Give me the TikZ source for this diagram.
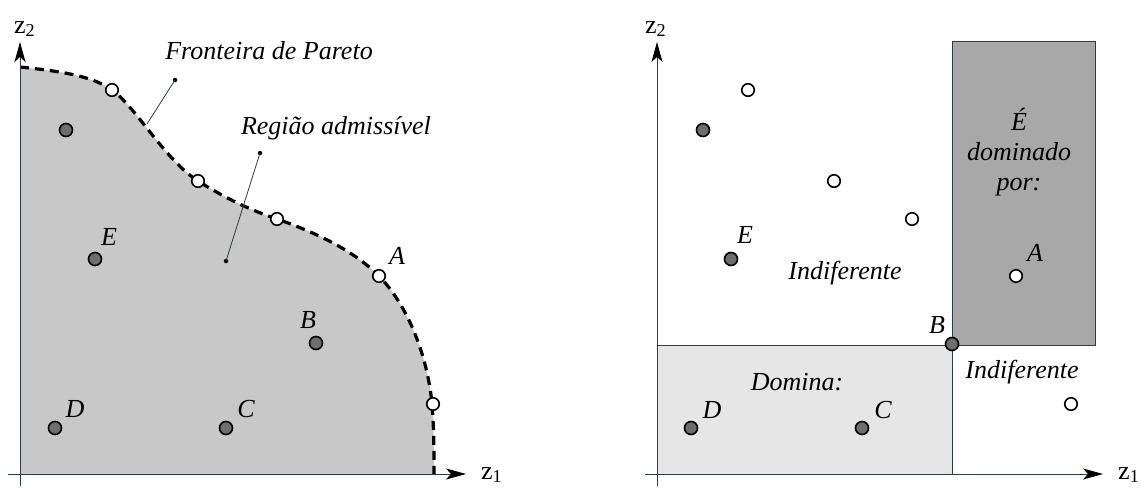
\documentclass[tikz,border=0pt]{standalone}
\usepackage{fontspec}
\setmainfont{Liberation Serif}
\usetikzlibrary{arrows.meta}
\definecolor{axcol}{RGB}{45,60,70}
\definecolor{regfill}{RGB}{200,200,200}
\definecolor{darkfill}{RGB}{168,168,168}
\definecolor{lightfill}{RGB}{230,230,230}
\definecolor{ptgray}{RGB}{110,110,110}
\begin{document}
\begin{tikzpicture}[x=1pt,y=-1pt,
  axis/.style={draw=axcol, line width=0.9pt, -{Stealth[length=20pt,width=11pt,inset=5pt,color=black]}},
  fpt/.style={circle, draw=black, line width=1.6pt, fill=ptgray, minimum size=13pt, inner sep=0pt},
  hpt/.style={circle, draw=black, line width=1.6pt, fill=white, minimum size=12.5pt, inner sep=0pt},
  lbl/.style={font=\fontsize{26}{30}\selectfont\itshape, inner sep=0pt},
  axlbl/.style={font=\fontsize{26}{30}\selectfont, inner sep=0pt},
  leader/.style={draw=axcol, line width=0.8pt},
  ldot/.style={circle, fill=black, minimum size=4.5pt, inner sep=0pt},
  pareto/.style={draw=black, line width=3.2pt, dash pattern=on 9pt off 6pt},
  region/.style={draw=axcol, line width=0.9pt}
]
\useasboundingbox (0,0) rectangle (1141,488);

% ---------- left panel ----------
\fill[regfill] (20,474) -- (20,67)
  .. controls (70,72) and (95,78) .. (112,90)
  .. controls (135,106) and (165,160) .. (198,181)
  .. controls (225,198) and (250,210) .. (277,219)
  .. controls (320,234) and (355,252) .. (379,276)
  .. controls (410,308) and (428,360) .. (432,404)
  .. controls (434,430) and (434,450) .. (434,474) -- cycle;
\draw[pareto] (20,67)
  .. controls (70,72) and (95,78) .. (112,90)
  .. controls (135,106) and (165,160) .. (198,181)
  .. controls (225,198) and (250,210) .. (277,219)
  .. controls (320,234) and (355,252) .. (379,276)
  .. controls (410,308) and (428,360) .. (432,404)
  .. controls (434,430) and (434,450) .. (434,474);

\coordinate (Lo) at (8,474);
\coordinate (Lx) at (466,474);
\coordinate (Lb) at (20,486);
\coordinate (Ly) at (20,42);
\draw[axis] (Lo) -- (Lx);
\draw[axis] (Lb) -- (Ly);
\node[axlbl, anchor=base west] (Lz2) at (14,33) {z\textsubscript{2}};
\node[axlbl, anchor=base west] (Lz1) at (481,479) {z\textsubscript{1}};

% leaders
\node[ldot] (fdot) at (175,80) {};
\coordinate (fcurve) at (147,124);
\draw[leader] (fdot.center) -- (fcurve);
\node[lbl] (ftxt) at (269,51) {Fronteira de Pareto};
\node[ldot] (rdot) at (260,153) {};
\node[ldot] (rdot2) at (226,261) {};
\draw[leader] (rdot.center) -- (rdot2.center);
\node[lbl] (rtxt) at (336,128) {Região admissível};

% points
\node[hpt] (L1) at (112,90) {};
\node[hpt] (L2) at (198,181) {};
\node[hpt] (L3) at (277,219) {};
\node[hpt] (LA) at (379,276) {};
\node[hpt] (L5) at (433,404) {};
\node[fpt] (L6) at (66,130) {};
\node[fpt] (LE) at (95,259) {};
\node[fpt] (LB) at (316,343) {};
\node[fpt] (LD) at (55,428) {};
\node[fpt] (LC) at (226,428) {};
\node[lbl] (LAl) at (397,256) {A};
\node[lbl] (LEl) at (109,237) {E};
\node[lbl] (LBl) at (308,320) {B};
\node[lbl] (LDl) at (75,409) {D};
\node[lbl] (LCl) at (246,409) {C};

% ---------- right panel ----------
\filldraw[region, fill=darkfill] (952,41) rectangle (1095,345);
\filldraw[region, fill=lightfill] (657,345) rectangle (952,474);

\coordinate (Ro) at (645,474);
\coordinate (Rx) at (1103,474);
\coordinate (Rb) at (657,486);
\coordinate (Ry) at (657,42);
\draw[axis] (Ro) -- (Rx);
\draw[axis] (Rb) -- (Ry);
\node[axlbl, anchor=base west] (Rz2) at (645,33) {z\textsubscript{2}};
\node[axlbl, anchor=base west] (Rz1) at (1118,479) {z\textsubscript{1}};

\node[hpt] (R1) at (748,90) {};
\node[hpt] (R2) at (834,181) {};
\node[hpt] (R3) at (912,219) {};
\node[hpt] (RA) at (1016,276) {};
\node[hpt] (R5) at (1071,404) {};
\node[fpt] (R6) at (703,130) {};
\node[fpt] (RE) at (731,259) {};
\node[fpt] (RB) at (952,344) {};
\node[fpt] (RD) at (691,428) {};
\node[fpt] (RC) at (862,428) {};
\node[lbl] (RAl) at (1035,253) {A};
\node[lbl] (REl) at (745,235) {E};
\node[lbl] (RBl) at (937,325) {B};
\node[lbl] (RDl) at (712,410) {D};
\node[lbl] (RCl) at (883,410) {C};

\node[lbl, align=center, font=\fontsize{26}{30}\selectfont\itshape] (dom) at (1019,152) {É\\dominado\\por:};
\node[lbl] (ind1) at (845,273) {Indiferente};
\node[lbl] (domina) at (797,382) {Domina:};
\node[lbl] (ind2) at (1022,372) {Indiferente};
\end{tikzpicture}
\end{document}
